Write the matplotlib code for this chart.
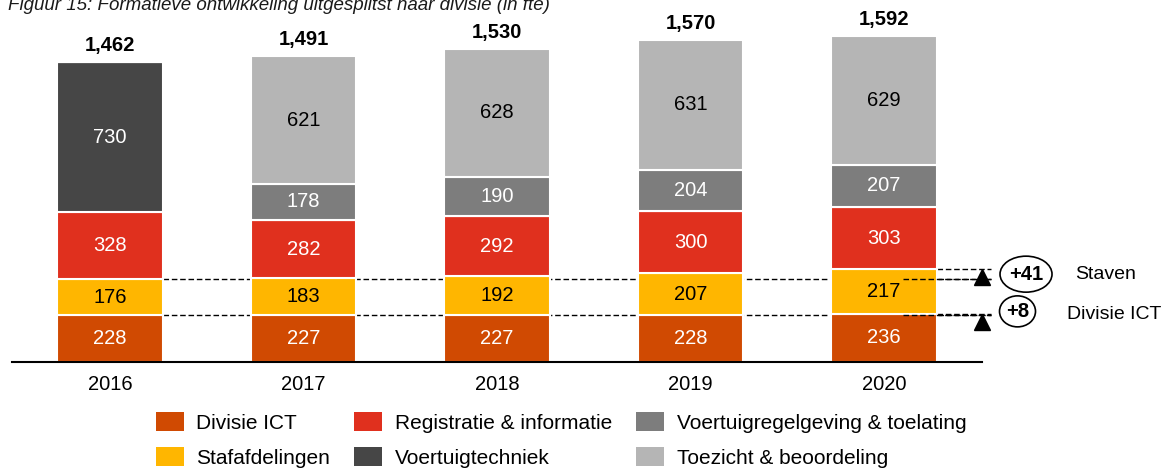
import numpy as np
import matplotlib.pyplot as plt
from matplotlib import transforms
from matplotlib.patches import Ellipse

plt.rcParams['font.family'] = ['Liberation Sans', 'DejaVu Sans']

# Datos
jaren = ['2016', '2017', '2018', '2019', '2020']
divisie_ict = [228, 227, 227, 228, 236]
stafafdelingen = [176, 183, 192, 207, 217]
registratie = [328, 282, 292, 300, 303]
voertuigtechniek = [730, 0, 0, 0, 0]
voertuigregelgeving = [0, 178, 190, 204, 207]
toezicht = [0, 621, 628, 631, 629]
totalen = [1462, 1491, 1530, 1570, 1592]

series = [
    ('Divisie ICT', divisie_ict, '#D04A02', 'white'),
    ('Stafafdelingen', stafafdelingen, '#FFB600', 'black'),
    ('Registratie & informatie', registratie, '#E0301E', 'white'),
    ('Voertuigtechniek', voertuigtechniek, '#464646', 'white'),
    ('Voertuigregelgeving & toelating', voertuigregelgeving, '#7D7D7D', 'white'),
    ('Toezicht & beoordeling', toezicht, '#B5B5B5', 'black'),
]

fs = 14.5
fig = plt.figure(figsize=(11.68, 4.69), dpi=100)
ax = fig.add_axes([12 / 1168, 107 / 469, 970 / 1168, 362 / 469])

x = np.arange(len(jaren))
bw = 0.545
bottom = np.zeros(len(jaren))
for naam, vals, kleur, tkleur in series:
    vals = np.array(vals, dtype=float)
    ax.bar(x, vals, bw, bottom=bottom, color=kleur, edgecolor='white',
           linewidth=1.5, zorder=3)
    for xi, v, b in zip(x, vals, bottom):
        if v > 0:
            ax.text(xi, b + v / 2, f'{int(v)}', ha='center', va='center',
                    color=tkleur, fontsize=fs, zorder=4)
    bottom += vals

for xi, t, top in zip(x, totalen, bottom):
    ax.annotate(f'{t:,}', (xi, top), xytext=(0, 5), textcoords='offset points',
                ha='center', va='bottom', fontsize=fs, fontweight='bold')

# Vergelijkingslijnen 2016 vs 2020
ict_2016 = divisie_ict[0]
ict_2020 = divisie_ict[-1]
staf_2016 = divisie_ict[0] + stafafdelingen[0]
staf_2020 = divisie_ict[-1] + stafafdelingen[-1]
x_end = 4.553
ls = (0, (4, 2))
for y in [ict_2016, staf_2016]:
    ax.plot([0 + bw / 2, x_end], [y, y], color='black', lw=1, ls=ls, zorder=1, clip_on=False)
    ax.plot([4.1, x_end], [y, y], color='black', lw=1, ls=ls, zorder=5, clip_on=False)
for y in [ict_2020, staf_2020]:
    ax.plot([4 + bw / 2, x_end], [y, y], color='black', lw=1, ls=ls, zorder=1, clip_on=False)

tri_trans = transforms.offset_copy(ax.transData, fig=fig, y=-8, units='dots')
for y in [ict_2020, staf_2020]:
    ax.plot([4.506], [y], marker='^', ms=11.5, color='black', transform=tri_trans,
            clip_on=False, zorder=6)

# Verschillen
d_staf = staf_2020 - staf_2016 - (ict_2020 - ict_2016)
d_ict = ict_2020 - ict_2016
y_staf = (staf_2016 + staf_2020) / 2
y_ict = (ict_2016 + ict_2020) / 2 + 15
for xc, yc, w, h, txt in [(4.734, y_staf, 0.52, 0.36, f'+{d_staf}'),
                          (4.69, y_ict, 0.36, 0.31, f'+{d_ict}')]:
    trans = fig.dpi_scale_trans + transforms.ScaledTranslation(xc, yc, ax.transData)
    fig.add_artist(Ellipse((0, 0), w, h, transform=trans, fill=False,
                           edgecolor='black', lw=1.2))
    ax.text(xc, yc, txt, ha='center', va='center', fontsize=fs, fontweight='bold',
            clip_on=False)
ax.text(4.987, y_staf, 'Staven', ha='left', va='center', fontsize=fs - 0.5)
ax.text(4.946, (ict_2016 + ict_2020) / 2, 'Divisie ICT', ha='left', va='center',
        fontsize=fs - 0.5)

ax.set_xlim(-0.5065, 4.5065)
ax.set_ylim(0, 1766)
ax.set_xticks(x)
ax.set_xticklabels(jaren, fontsize=fs)
ax.tick_params(axis='x', length=0, pad=9)
ax.set_yticks([])
for s in ['top', 'right', 'left']:
    ax.spines[s].set_visible(False)
ax.spines['bottom'].set_linewidth(1.5)
ax.spines['bottom'].set_zorder(6)

fig.text(8 / 1168, 1 - 10 / 469,
         'Figuur 15: Formatieve ontwikkeling uitgesplitst naar divisie (in fte)',
         fontsize=13.5, style='italic', va='baseline', ha='left', color='#1a1a1a')

# Legenda met eenvoudige vierkantjes
from matplotlib.patches import Patch
handles = [Patch(facecolor=k, edgecolor='none', label=n) for n, _, k, _ in series]
fig.legend(handles=handles, loc='center', bbox_to_anchor=(561 / 1168, 1 - 440 / 469),
           ncol=3, frameon=False, fontsize=15, handlelength=1.35, handleheight=1.0,
           handletextpad=0.6, columnspacing=1.15, labelspacing=0.7, borderpad=0)

fig.savefig('out.png', dpi=100)
